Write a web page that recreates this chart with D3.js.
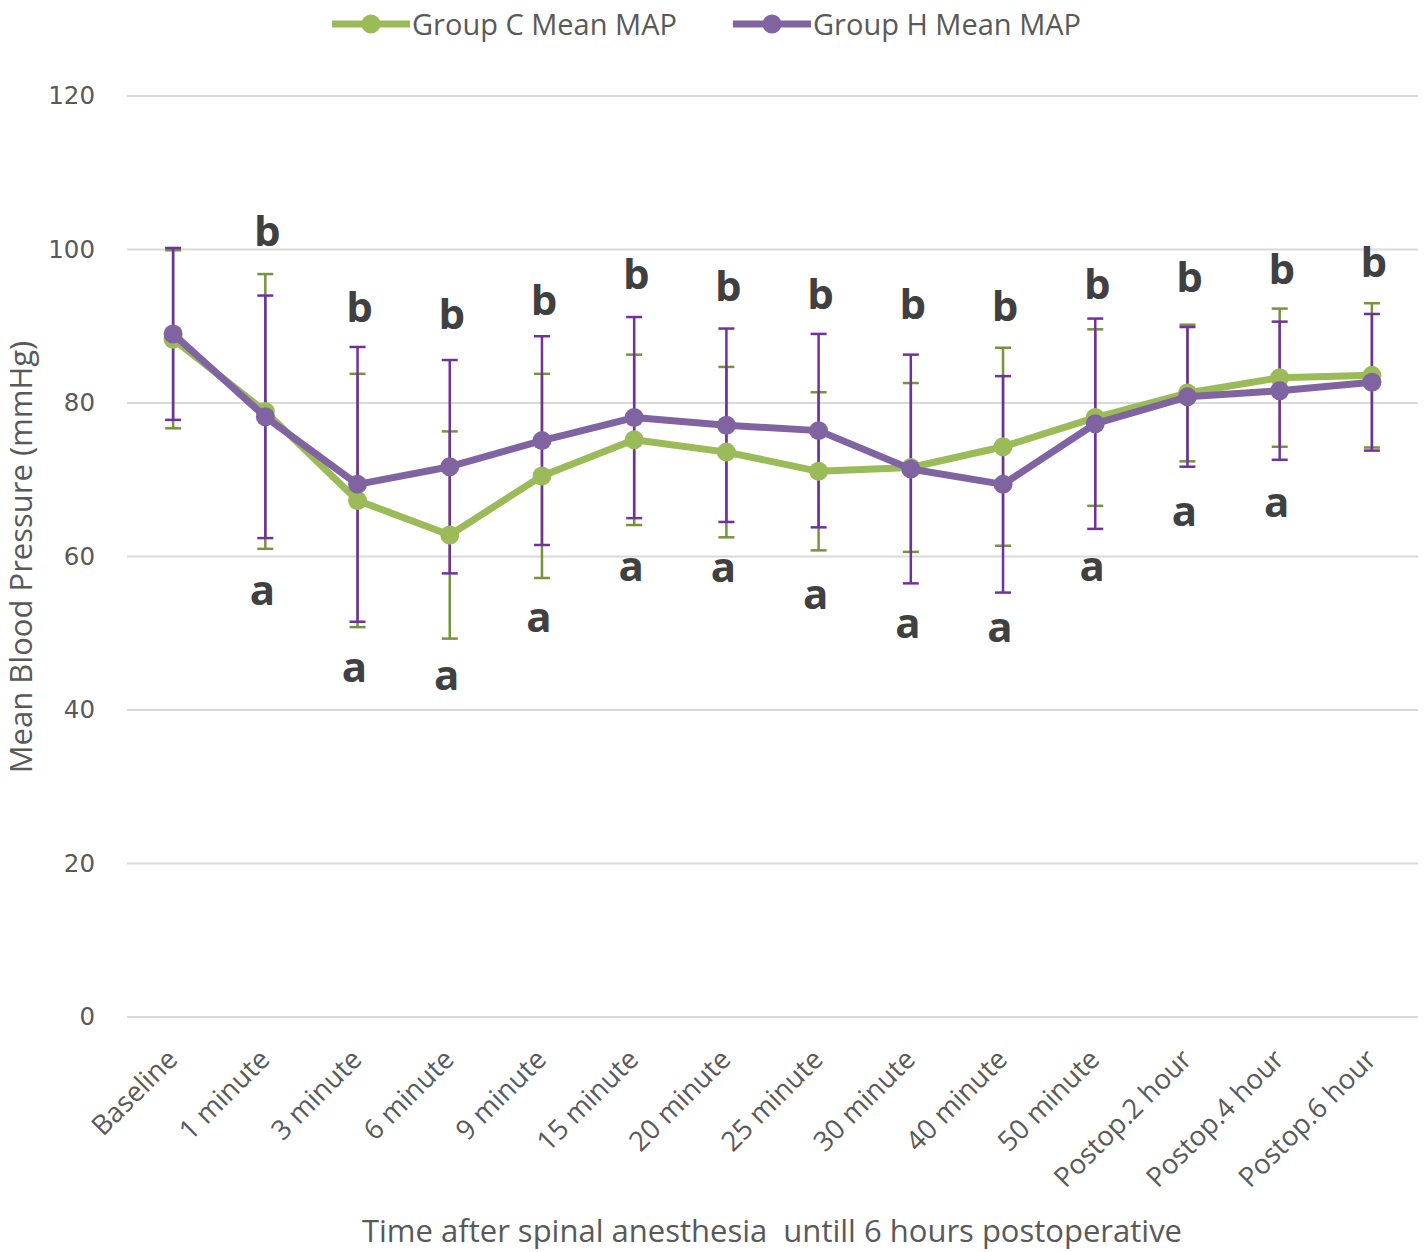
<!DOCTYPE html>
<html><head><meta charset="utf-8">
<script src="https://cdn.jsdelivr.net/npm/d3@7"></script>
<style>body{margin:0;background:#fff;} svg{display:block;}</style>
</head><body>
<svg id="chart" width="1424" height="1252"></svg>
<script>
const categories = ["Baseline","1 minute","3 minute","6 minute","9 minute","15 minute","20 minute","25 minute","30 minute","40 minute","50 minute","Postop.2 hour","Postop.4 hour","Postop.6 hour"];
const groupCMean = [88.3,78.9,67.3,62.8,70.5,75.2,73.6,71.1,71.6,74.3,78.1,81.3,83.3,83.6];
const groupCSD   = [11.6,17.9,16.5,13.5,13.3,11.1,11.1,10.3,11.0,12.9,11.5,8.9,9.0,9.4];
const groupHMean = [89.0,78.2,69.4,71.7,75.1,78.1,77.1,76.4,71.4,69.4,77.3,80.8,81.6,82.7];
const groupHSD   = [11.2,15.8,17.9,13.9,13.6,13.1,12.6,12.6,14.9,14.1,13.7,9.1,9.0,8.9];
const letterB = [null,"b","b","b","b","b","b","b","b","b","b","b","b","b"];
const letterBAt = [null,100.4,90.6,89.6,91.5,94.9,93.3,92.2,90.9,90.7,93.5,94.5,95.5,96.4];
const letterA = [null,"a","a","a","a","a","a","a","a","a","a","a","a",null];
const letterAAt = [null,53.7,43.6,42.6,50.2,56.8,56.7,53.2,49.4,48.8,56.8,64.0,65.1,null];
const yTicks = [0,20,40,60,80,100,120];
const seriesNames = ["Group C Mean MAP","Group H Mean MAP"];

(function(){
const svg = d3.select("#chart");
const mLeft = 127, mRight = 1418, mTop = 96, mBottom = 1017;
const x = d3.scaleBand().domain(categories).range([mLeft, mRight]);
const y = d3.scaleLinear().domain([0,120]).range([mBottom, mTop]);
const cx = c => x(c) + x.bandwidth()/2;

// gridlines
svg.append("g").selectAll("line").data(yTicks).join("line")
  .attr("x1", mLeft).attr("x2", mRight)
  .attr("y1", d => y(d)).attr("y2", d => y(d))
  .attr("stroke", "#d9d9d9").attr("stroke-width", 2);

// y labels
const yAxis = d3.axisLeft(y).tickValues(yTicks).tickSize(0).tickPadding(0);
const gy = svg.append("g").attr("transform", `translate(${mLeft-32},0)`).call(yAxis);
gy.select(".domain").remove();
gy.selectAll("text").attr("font-family","DejaVu Sans").attr("font-size",24.5).attr("fill","#595959");

// x labels
const xAxis = d3.axisBottom(x).tickSize(0).tickPadding(0);
const gx = svg.append("g").attr("transform", `translate(0,${mBottom})`).call(xAxis);
gx.select(".domain").remove();
gx.selectAll("text")
  .attr("font-family","Open Sans").attr("font-size",27.5).attr("fill","#595959")
  .attr("text-anchor","end").attr("dy",0).attr("y",0)
  .attr("transform","translate(6,44) rotate(-45)");

// axis titles
svg.append("text").attr("transform",`translate(32,${557}) rotate(-90)`)
  .attr("text-anchor","middle").attr("font-family","Open Sans").attr("font-size",31)
  .attr("fill","#595959").text("Mean Blood Pressure (mmHg)");
svg.append("text").attr("x",772).attr("y",1242)
  .attr("text-anchor","middle").attr("font-family","Open Sans").attr("font-size",31)
  .attr("fill","#595959").attr("xml:space","preserve").text("Time after spinal anesthesia  untill 6 hours postoperative");

const series = [
  {mean: groupCMean, sd: groupCSD, line:"#9bbb59", err:"#77933c"},
  {mean: groupHMean, sd: groupHSD, line:"#8064a2", err:"#7030a0"}
];

// error bars
series.forEach(s => {
  const g = svg.append("g").attr("stroke", s.err).attr("stroke-width", 2.5);
  categories.forEach((c,i) => {
    const hi = y(s.mean[i] + s.sd[i]), lo = y(s.mean[i] - s.sd[i]);
    g.append("line").attr("x1",cx(c)).attr("x2",cx(c)).attr("y1",hi).attr("y2",lo);
    g.append("line").attr("x1",cx(c)-8).attr("x2",cx(c)+8).attr("y1",hi).attr("y2",hi);
    g.append("line").attr("x1",cx(c)-8).attr("x2",cx(c)+8).attr("y1",lo).attr("y2",lo);
  });
});

// lines & markers
series.forEach(s => {
  const line = d3.line().x((d,i) => cx(categories[i])).y(d => y(d));
  svg.append("path").datum(s.mean).attr("d", line).attr("fill","none")
    .attr("stroke", s.line).attr("stroke-width", 7).attr("stroke-linejoin","round");
  svg.append("g").selectAll("circle").data(s.mean).join("circle")
    .attr("cx",(d,i)=>cx(categories[i])).attr("cy",d=>y(d)).attr("r",9.5).attr("fill",s.line);
});

// letters
const letters = svg.append("g").attr("font-family","Open Sans").attr("font-weight","bold")
  .attr("font-size",42).attr("fill","#404040").attr("text-anchor","middle");
categories.forEach((c,i) => {
  if (letterB[i]) letters.append("text").attr("x",cx(c)+2).attr("y",y(letterBAt[i])).text(letterB[i]);
  if (letterA[i]) letters.append("text").attr("x",cx(c)-3).attr("y",y(letterAAt[i])).text(letterA[i]);
});

// legend
const legendItems = [
  {name: seriesNames[0], color:"#9bbb59", x0:332},
  {name: seriesNames[1], color:"#8064a2", x0:733}
];
legendItems.forEach(l => {
  const g = svg.append("g");
  g.append("line").attr("x1",l.x0).attr("x2",l.x0+78).attr("y1",24).attr("y2",24)
    .attr("stroke",l.color).attr("stroke-width",7);
  g.append("circle").attr("cx",l.x0+39).attr("cy",24).attr("r",9.5).attr("fill",l.color);
  g.append("text").attr("x",l.x0+80).attr("y",35).attr("font-family","Open Sans")
    .attr("font-size",29).attr("fill","#595959").text(l.name);
});
})();
</script>
</body></html>
